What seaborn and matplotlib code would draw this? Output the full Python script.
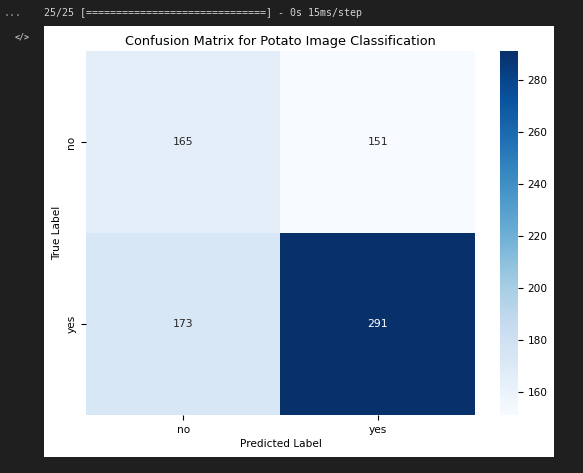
import numpy as np
import pandas as pd
import seaborn as sns
import matplotlib.pyplot as plt
from matplotlib.patches import Rectangle

class_names = ['no', 'yes']
cm_values = [[165, 151],
             [173, 291]]

cm = pd.DataFrame(cm_values, index=class_names, columns=class_names)

fig = plt.figure(figsize=(5.83, 4.73), dpi=100, facecolor='#1f1f1f')

# white output cell behind the plot
fig.patches.append(Rectangle((0.0755, 0.0338), 0.8748, 0.9112, transform=fig.transFigure,
                             facecolor='white', edgecolor='none', zorder=-5))
fig.text(0.006, 0.973, '...', color='#a0a0a0', fontsize=7.2, family='DejaVu Sans Mono', va='center')
fig.text(0.0755, 0.973, '25/25 [==============================] - 0s 15ms/step',
         color='#d4d4d4', fontsize=7.2, family='DejaVu Sans Mono', va='center')
fig.text(0.038, 0.921, '</>', color='#c0c0c0', fontsize=6, family='DejaVu Sans Mono',
         va='center', ha='center', weight='bold')

ax = fig.add_axes([0.1475, 0.1226, 0.6672, 0.7696])
cax = fig.add_axes([0.8576, 0.1226, 0.0304, 0.7696])

sns.heatmap(cm, annot=True, fmt='d', cmap='Blues', ax=ax, cbar_ax=cax,
            annot_kws={'fontsize': 7.8})
ax.set_title('Confusion Matrix for Potato Image Classification', fontsize=9.3, pad=4.5)
ax.set_xlabel('Predicted Label', fontsize=7.6, labelpad=3)
ax.set_ylabel('True Label', fontsize=7.6)
ax.yaxis.set_label_coords(-0.062, 0.5)
ax.tick_params(labelsize=7.6)
cax.tick_params(labelsize=7.6)

fig.savefig('out.png', dpi=100, facecolor=fig.get_facecolor())
